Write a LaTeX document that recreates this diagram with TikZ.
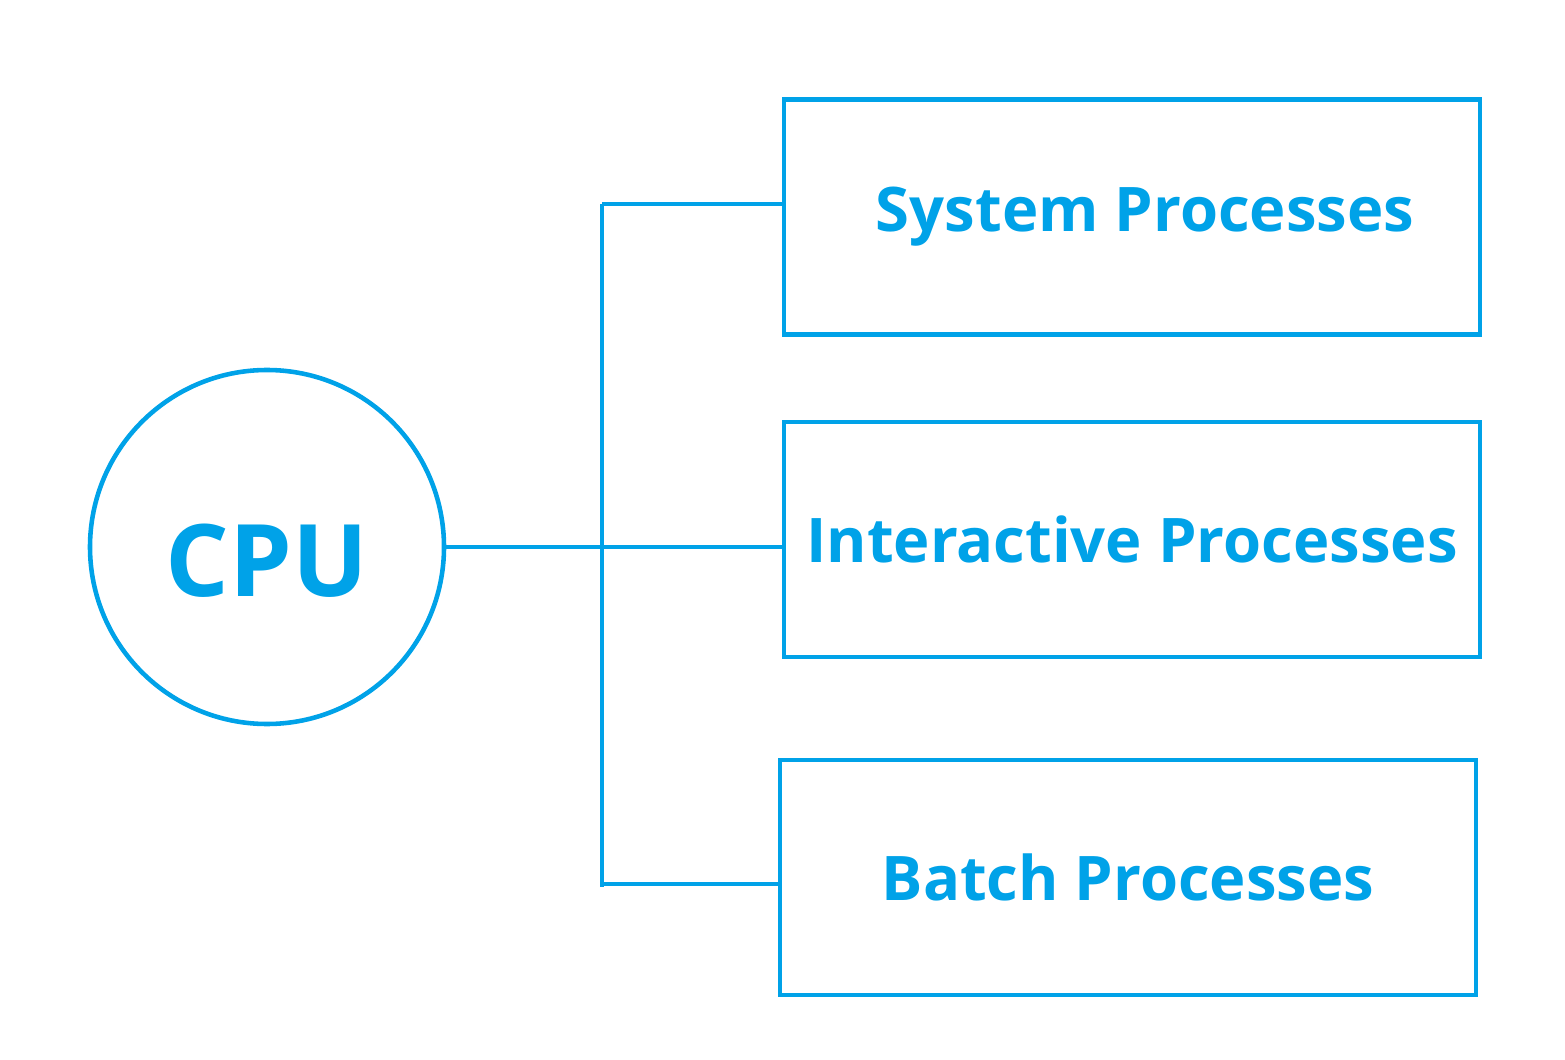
\documentclass[tikz,border=0pt]{standalone}
\usepackage{fontspec}
\setmainfont{Open Sans}
\usetikzlibrary{positioning}
\definecolor{col1}{HTML}{00A2E8}

\begin{document}
\begin{tikzpicture}[line width=1.3pt, draw=col1, text=col1, font=\bfseries,
	    cpu/.style={circle, draw=col1, inner sep=0pt, minimum size=3.54cm, font=\fontsize{28.5}{33}\selectfont\bfseries},
	    procbox/.style={rectangle, draw=col1, inner sep=0pt, minimum width=6.96cm, minimum height=2.35cm, font=\fontsize{17.5}{21}\selectfont\bfseries},
	    link/.style={draw=col1, line width=1.3pt}]
	    \useasboundingbox (0,0) rectangle (15.65,10.59);
	
		\node[cpu] (cpu) at (2.67,5.12) {\raisebox{-0.5cm}[0pt][0pt]{CPU}};
		\node[procbox] (sys) at (11.32,8.42) {\hspace*{0.26cm}\raisebox{-0.03cm}{System Processes}};
		\node[procbox] (inter) at (11.32,5.195) {Interactive Processes};
		\node[procbox] (batch) at (11.28,1.815) {Batch Processes};
		\coordinate (top) at (6.02,8.55);
		\coordinate (bot) at (6.02,1.72);
		\coordinate (low) at (6.02,1.75);
		
		\draw[link] (top) -- (bot);
		\draw[link] (top) -- (top -| sys.west);
		\draw[link] (cpu.east) -- (cpu.east -| inter.west);
		\draw[link] (low) -- (low -| batch.west);
	  \end{tikzpicture}
\end{document}
